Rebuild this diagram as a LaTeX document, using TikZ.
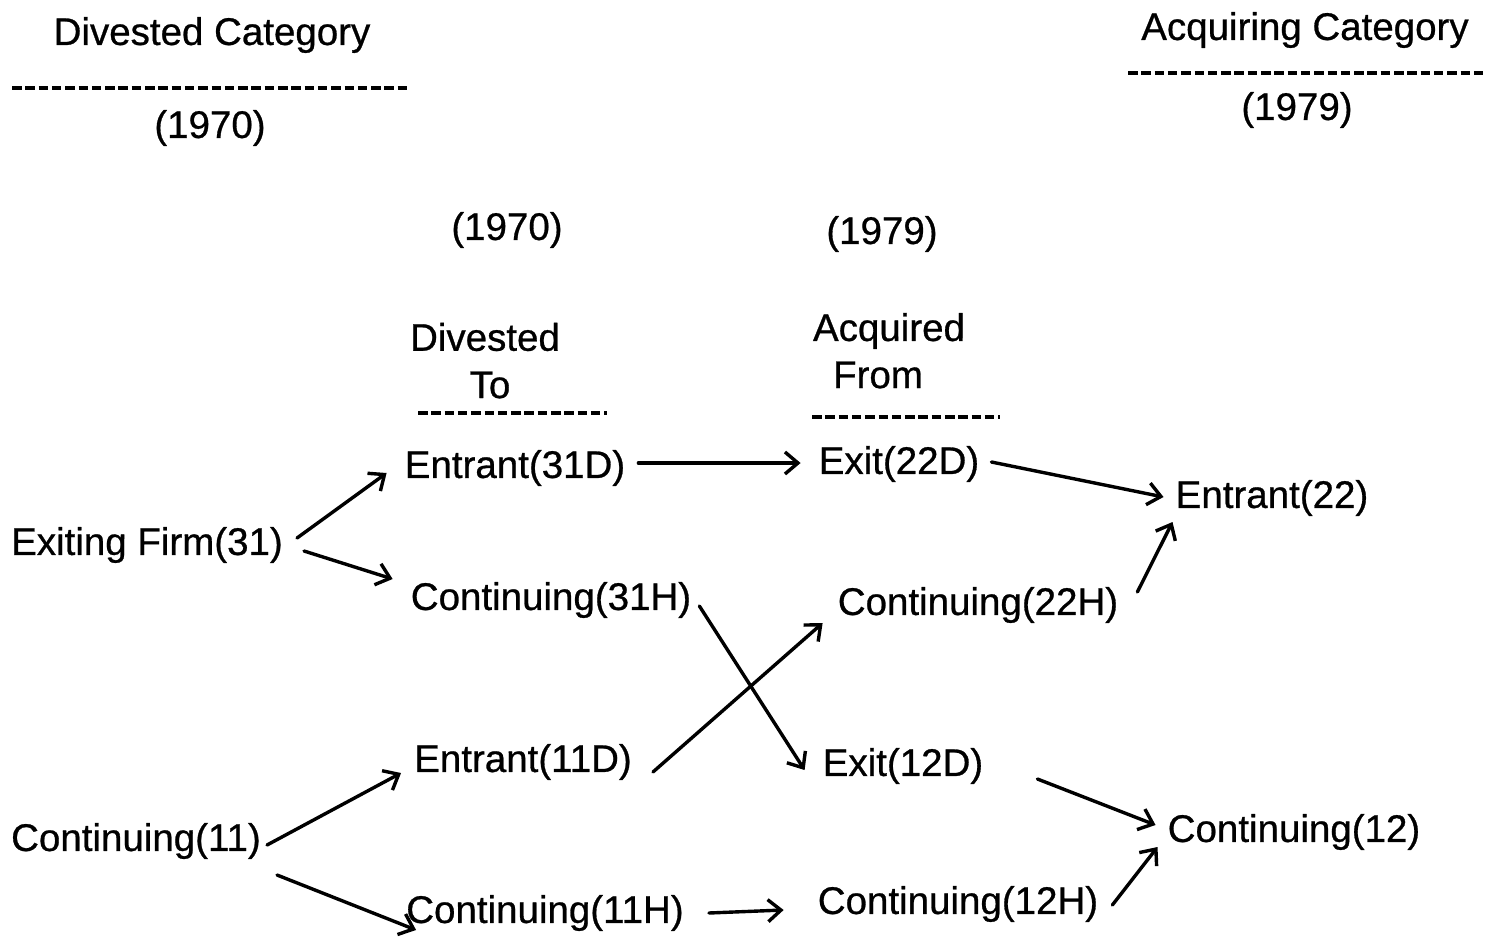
\documentclass[tikz,border=0pt]{standalone}
\usepackage{fontspec}
\setmainfont{Liberation Sans}[FakeBold=0.7]
\usetikzlibrary{arrows.meta}
\begin{document}
\begin{tikzpicture}[x=1pt,y=-1pt,
  lbl/.style={inner sep=0pt,font=\fontsize{38.5}{40}\selectfont},
  arr/.style={line width=3.4pt,line cap=round,-{Straight Barb[length=13pt,width=22pt,line width=3.4pt]}},
  rule/.style={line width=3.2pt,dash pattern=on 9.5pt off 3.8pt}]
\useasboundingbox (0,0) rectangle (1494,937);
% headings
\node[lbl] (dc) at (212,35) {Divested Category};
\node[lbl] (y70a) at (210,128) {(1970)};
\node[lbl] (ac) at (1305,30) {Acquiring Category};
\node[lbl] (y79a) at (1297,110) {(1979)};
\coordinate (r1a) at (12,88); \coordinate (r1b) at (407,88);
\coordinate (r2a) at (1128,73); \coordinate (r2b) at (1483,73);
\draw[rule] (r1a) -- (r1b);
\draw[rule] (r2a) -- (r2b);
\node[lbl] (y70b) at (507,230) {(1970)};
\node[lbl] (y79b) at (882,234) {(1979)};
\node[lbl] (dv) at (485,337) {Divested};
\node[lbl] (to) at (490,385) {To};
\node[lbl] (aq) at (889,331) {Acquired};
\node[lbl] (fr) at (878,375) {From};
\coordinate (r3a) at (418,413); \coordinate (r3b) at (607,413);
\coordinate (r4a) at (812,417); \coordinate (r4b) at (1000,417);
\draw[rule] (r3a) -- (r3b);
\draw[rule] (r4a) -- (r4b);
% nodes
\node[lbl] (ent31D) at (515,468) {Entrant(31D)};
\node[lbl] (exit22D) at (899,464) {Exit(22D)};
\node[lbl] (ent22) at (1272,498) {Entrant(22)};
\node[lbl] (ex31) at (147,545) {Exiting Firm(31)};
\node[lbl] (con31H) at (551,600) {Continuing(31H)};
\node[lbl] (con22H) at (978,605) {Continuing(22H)};
\node[lbl] (ent11D) at (523,762) {Entrant(11D)};
\node[lbl] (exit12D) at (903,766) {Exit(12D)};
\node[lbl] (con12) at (1294,832) {Continuing(12)};
\node[lbl] (con11) at (136,841) {Continuing(11)};
\node[lbl] (con11H) at (545,913) {Continuing(11H)};
\node[lbl] (con12H) at (958,904) {Continuing(12H)};
% arrows
\draw[arr] ([shift={(14,-7)}]ex31.east) -- ([shift={(-18,5)}]ent31D.west);
\draw[arr] ([shift={(21,6)}]ex31.east) -- ([shift={(-18,-21)}]con31H.west);
\draw[arr] ([shift={(13,-5)}]ent31D.east) -- ([shift={(-18,-1)}]exit22D.west);
\draw[arr] ([shift={(12,-2)}]exit22D.east) -- ([shift={(-12,-1)}]ent22.west);
\draw[arr] ([shift={(19,-13)}]con22H.east) -- ([shift={(-3,24)}]ent22.west);
\draw[arr] ([shift={(8,6)}]con31H.east) -- ([shift={(-18,4)}]exit12D.west);
\draw[arr] ([shift={(21,10)}]ent11D.east) -- ([shift={(-15,18)}]con22H.west);
\draw[arr] ([shift={(6,4)}]con11.east) -- ([shift={(-13,11)}]ent11D.west);
\draw[arr] ([shift={(16,34)}]con11.east) -- ([shift={(10,17)}]con11H.west);
\draw[arr] ([shift={(25,0)}]con11H.east) -- ([shift={(-34,6)}]con12H.west);
\draw[arr] ([shift={(54,13)}]exit12D.east) -- ([shift={(-12,-7)}]con12.west);
\draw[arr] ([shift={(14,1)}]con12H.east) -- ([shift={(-10,15)}]con12.west);
\end{tikzpicture}
\end{document}
